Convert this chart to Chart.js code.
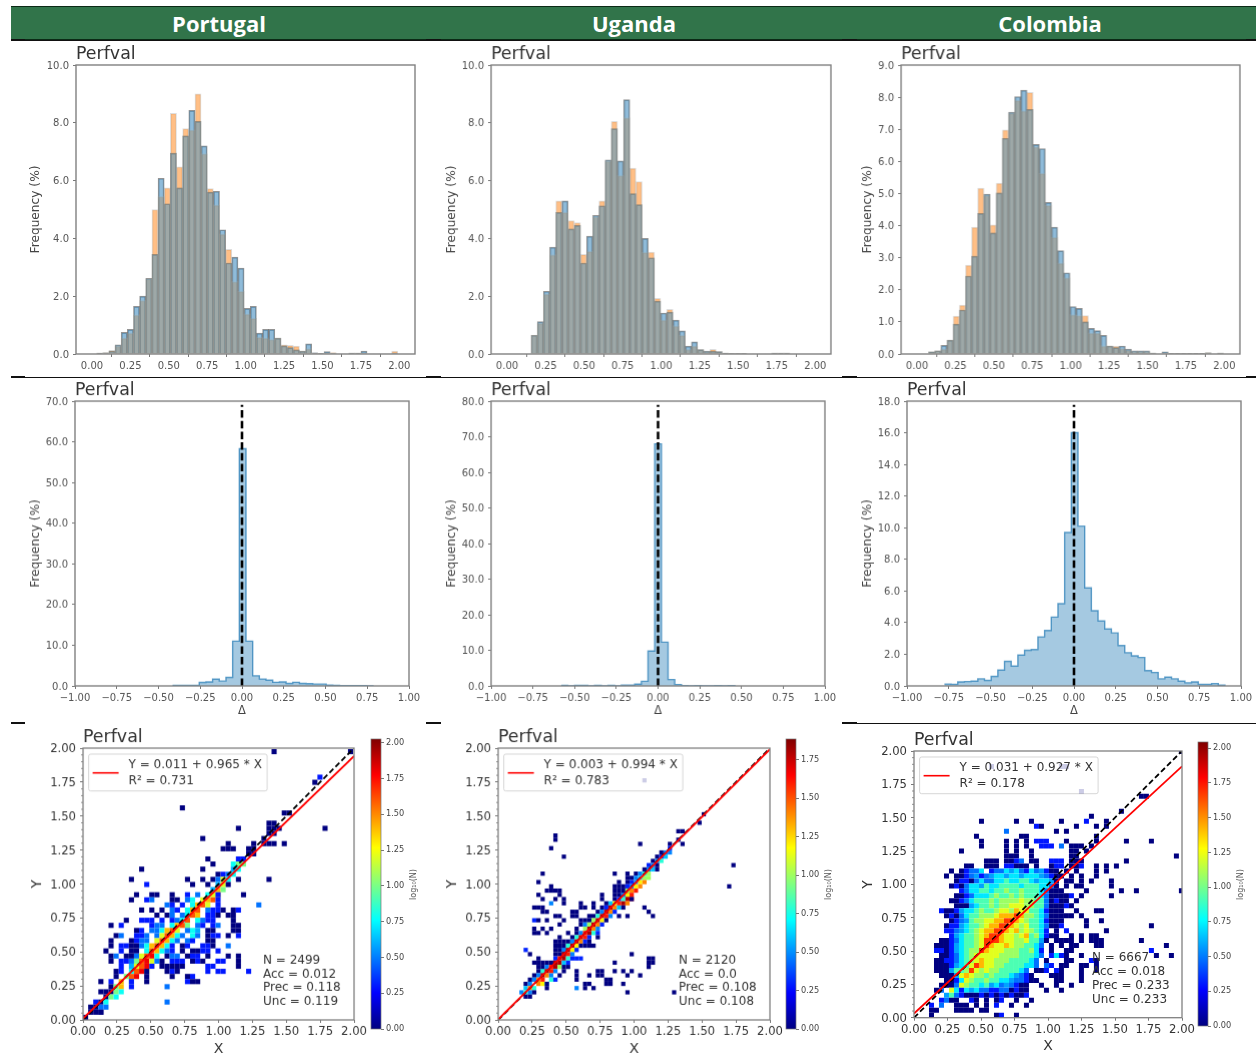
<!DOCTYPE html>
<html><head><meta charset="utf-8">
<script src="https://cdn.jsdelivr.net/npm/chart.js@4"></script>
<style>
html,body{margin:0;padding:0;background:#fff;width:1256px;height:1059px;overflow:hidden}
canvas{position:absolute;filter:blur(0.45px)}
.band{position:absolute;left:11px;top:6px;width:1245px;height:34px;background:#31744a;border-top:1px solid #0b2a16;border-bottom:1px solid #0b2a16;box-sizing:border-box}
.head{position:absolute;top:6px;height:33px;color:#fff;font:bold 22px/34px "Open Sans",sans-serif;transform:translateX(-50%)}
.rule{position:absolute;background:#111}
</style></head><body>
<div class="band"></div>
<div class="head" style="left:219px">Portugal</div>
<div class="head" style="left:634px">Uganda</div>
<div class="head" style="left:1050px">Colombia</div>
<script>
// ---------- categories / labels ----------
const countries = ["Portugal", "Uganda", "Colombia"];
const titleText = "Perfval";
const histXTicks = [0, 0.25, 0.5, 0.75, 1, 1.25, 1.5, 1.75, 2];
const deltaXTicks = [-1, -0.75, -0.5, -0.25, 0, 0.25, 0.5, 0.75, 1];
const scatterTicks = [0, 0.25, 0.5, 0.75, 1, 1.25, 1.5, 1.75, 2];
const histYTicksPT = [0, 2, 4, 6, 8, 10];
const histYTicksUG = [0, 2, 4, 6, 8, 10];
const histYTicksCO = [0, 1, 2, 3, 4, 5, 6, 7, 8, 9];
const deltaYTicksPT = [0, 10, 20, 30, 40, 50, 60, 70];
const deltaYTicksUG = [0, 10, 20, 30, 40, 50, 60, 70, 80];
const deltaYTicksCO = [0, 2, 4, 6, 8, 10, 12, 14, 16, 18];
const cbarTicksPT = [0, 0.25, 0.5, 0.75, 1, 1.25, 1.5, 1.75, 2];
const cbarTicksUG = [0, 0.25, 0.5, 0.75, 1, 1.25, 1.5, 1.75];
const cbarTicksCO = [0, 0.25, 0.5, 0.75, 1, 1.25, 1.5, 1.75, 2];

// ---------- histogram series: first bin edge, then % per 0.04 bin ----------
const histStartPT = 0.03;
const histBluePT = [.03,.04,.1,.32,.75,.85,1.65,2.0,2.62,3.45,6.08,5.2,6.95,5.75,7.55,8.43,8.05,7.2,5.6,5.63,4.3,3.15,3.35,2.97,1.58,1.65,.72,.85,.85,.55,.28,.22,.14,.1,.35,.04,.02,.08,.02,0,0,.03,.03,.1,0,0,0,0,.03];
const histOrangePT = [.03,.04,.13,.28,.55,.72,1.35,1.85,2.6,5.0,5.45,5.75,8.33,6.48,7.8,7.75,9.0,6.93,5.72,5.15,4.15,3.62,2.5,2.17,1.38,1.23,.58,.55,.5,.55,.32,.3,.27,.1,.18,.03,.02,.03,.05,0,0,.03,.03,.03,0,0,0,0,.1];
const histStartUG = 0.156;
const histBlueUG = [.65,1.12,2.17,3.7,4.9,5.3,4.33,4.45,3.15,4.08,4.8,5.13,6.72,7.8,6.68,8.8,5.55,5.17,4.0,3.33,1.83,1.42,1.45,1.17,.8,.27,.42,.15,.1,.1,.08,.03,.02,.02,.02,0,0,0,0,.03,.03,.03];
const histOrangeUG = [.65,1.07,2.07,3.43,5.3,4.9,4.62,4.55,3.45,3.55,4.75,5.3,6.68,8.05,6.17,8.17,6.43,5.97,3.52,3.53,1.93,1.17,1.55,.97,.65,.15,.27,.15,.08,.16,.08,.03,.02,.02,.02,0,0,0,0,.03,.03,.03];
const histStartCO = 0.075;
const histBlueCO = [.07,.1,.27,.43,.93,1.37,2.43,3.05,4.38,4.98,3.77,5.02,6.72,7.53,8.02,8.22,7.62,6.53,6.4,4.72,3.95,3.22,2.53,1.48,1.42,1.0,.8,.73,.58,.25,.2,.25,.15,.1,.1,.1,.03,0,.07,.02,.02,.02,.02,.02,.02,.04,0,.03];
const histOrangeCO = [.07,.1,.15,.43,1.18,1.52,2.77,3.95,5.17,4.93,4.02,5.32,6.98,7.5,7.9,7.57,8.15,6.45,5.63,4.63,3.63,2.83,2.37,1.22,1.2,1.2,.65,.65,.25,.25,.25,.17,.12,.07,.07,.07,.03,0,.03,.02,.02,.02,.02,.02,.02,.04,0,.03];

// ---------- delta histograms: first bin edge, then % per 0.04 bin ----------
const deltaStartPT = -0.416;
const deltaPT = [.12,.12,.15,.15,.85,1.0,1.65,1.2,2.1,11,58.3,11,2.5,1.7,1.4,.9,1.0,.6,.9,.6,.55,.45,.45,.2,.15,.05,.05,.05,.05,.03];
const deltaStartUG = -0.58;
const deltaUG = [.12,0,.12,.12,0,.12,0,.12,0,.2,.2,.5,1.3,9.8,68,12.3,1.8,.4,.05,0,.1,0,0,.1,0,.1];
const deltaStartCO = -0.776;
const deltaCO = [.12,.1,.25,.28,.3,.45,.35,.6,1.0,1.55,1.25,1.95,2.25,2.3,3.1,3.5,4.35,5.2,9.7,16,10.1,6.2,4.75,4.1,3.6,3.35,2.55,2.1,1.9,1.8,.97,.85,.45,.55,.45,.3,.2,.25,.1,.1,.15,.05];

// ---------- fit + summary text ----------
const fitPT = [0.011, 0.965]; const fitUG = [0.003, 0.994]; const fitCO = [0.031, 0.927];
const fitEnds = [0, 2];
const statsPT = ["N = 2499", "Acc = 0.012", "Prec = 0.118", "Unc = 0.119"];
const statsUG = ["N = 2120", "Acc = 0.0", "Prec = 0.108", "Unc = 0.108"];
const statsCO = ["N = 6667", "Acc = 0.018", "Prec = 0.233", "Unc = 0.233"];
const legendPT = ["Y = 0.011 + 0.965 * X", "R\u00b2 = 0.731"];
const legendUG = ["Y = 0.003 + 0.994 * X", "R\u00b2 = 0.783"];
const legendCO = ["Y = 0.031 + 0.927 * X", "R\u00b2 = 0.178"];

// ---------- 2-D histogram cells: "row col:levels col:levels" ('.' empty cell) ----------
const levelValues = {"1":0,"2":.3,"3":.48,"4":.6,"5":.78,"6":1,"7":1.2,"8":1.4,"9":1.6,"a":1.8};
const levelValuesCO = {"1":0,"2":.3,"3":.48,"4":.58,"5":.72,"6":.92,"7":1.08,"8":1.22,"9":1.42,"a":1.68};
const cellSizePT = 0.0376, cellSizeUG = 0.0312, cellSizeCO = 0.0373;
const heatPT = [
"52 37:1 52:1","47 46:2","46 45:1","41 19:1","40 39:11","38 36:11","37 30:1 36:111 47:1","36 36:11","35 23:1 35:1",
"34 28:1 33:1 35:111 39:1","33 27:111 32:11","32 32:11","31 24:1 30:22","30 25:1 29:566","29 11:1 23:1 29:45",
"28 26:12 28:35","27 9:1 20:1 23:1 25:1 26:375 30:1 36:1","26 12:2 21:1 24:1 26:47 28:1","25 25:4 26:86",
"24 10:1 13:11 17:1 20:2.3.578 26:2 31:1","23 9:1 12:23 17:11 20:35.789 26:2","22 16:32 19:2.5897 26:2 34:3",
"21 11:1 13:1 15:1.32 18:2.589.322 27:1 29:12","20 14:1.13.3598.221 28:11","19 8:1 11:222.2.2359.5322 29:1",
"18 5:1 7:2 13:233.5896.32.23 29:11","17 10:12.335897.354 24:11 29:11","16 6:13 10:223.379853.53 24:122 28:1 30:2",
"15 5:1 9:1233.79853.32 24:11","14 5:1 7:2211 11:3589852.12 23:221 28:3","13 4:1 7:2.11 12:598532 19:1 21:112 24:2 26:2",
"12 5:1 6:3.11 10:379a5.133 20:122 24:1 28:1 30:1","11 5:1 7:22 9:369a7 14:31 17:222 21:121 26:22 30:1",
"10 7:2 8:.479a8 13:2 15:11 17:111 24:22 30:1","9 6:1 7:2.59a7 12:1 16:1 17:21 24:2 26:22 32:2","8 6:1 7:.69a.1 17:1 20:1 21:2",
"7 3:1 5:2.8.6 9:2 12:1 20:21 22:1","6 5:1 6:68.2 16:3","5 3:11 5:165","4 4:165","3 2:21 4:5 16:3","2 1:1 2:133","1 1:111 3:1","0 0:1"
];
const heatUG = [
"56 34:1","48 48:1","46 47:1","44 42:11","43 13:1","42 13:1 42:1","41 33:1 40:1 43:1","40 12:1 40:2","39 38:133","38 15:1 37:124","37 36:135","36 35:23 37:1 55:1",
"35 34:134 37:1","34 10:1 27:1 30:1 32:1 33:356","33 30:1 31:13 33:466","32 9:1 28:1 30:12 32:378","31 12:1 27:111 30:2 31:378 54:1",
"30 11:111 14:1 27:1111 30:689","29 9:1 14:1 24:1 27:1111 29:379","28 10:1 13:1 15:1 24:1 27:1 28:25a9 31:1","27 12:3 15:1 19:1 22:1 25:1 26:479a8",
"26 8:111 19:1 20:1 22:1 24:12 26:a84 29:1 34:1","25 10:11 17:11 23:1 24:3a82 35:1","24 13:11 17:11 21:1 22:1 23:5a93 28:1 30:1 36:1","23 8:21 11:1 15:1 19:111 22:6a71",
"22 14:1 19:1 20:36a82","21 8:1 10:1 12:1 18:1 20:6a83","20 8:11 11:1 16:1 18:1 19:39a52","19 14:1 17:1 18:5a92 23:1",
"18 13:111 16:1 17:3a82 21:1","17 13:11 14:1 15:1 16:5a71 20:111","16 6:2 13:111 15:3a72","15 7:1 13:111 15:a93 31:1",
"14 9:1 13:29a5 17:222 35:11","13 8:1111 12:1 13:aa42 27:1 35:11","12 9:1 10:1 11:39a61 16:1 35:1","11 9:11 10:5a93 15:1 18:1 23:1 24:1 27:1 29:1 31:1",
"10 8:1 9:3a83 14:1 18:1 21:1 23:1 24:1 30:1 33:1","9 7:1 8:389.52 18:1 25:11","8 6:1 7:3.874 11:1 20:1 21:1 25:1 26:1 29:1","7 6:485 11:1 18:3 20:1 22:1","6 5:353 8:1 30:1 41:1","5 6:1 7:1"
];
const heatCO = [
"53 53:1","50 15:1 29:11","45 33:1","44 45:11","41 41:1","40 35:1","39 13:1 20:1 23:1 29:1 34:2 38:1","38 24:21 32:1 36:1 38:1","37 18:3 28:1 30:1","36 12:1 21:11 36:1",
"35 13:1 18:1 20:1 22:1 24:222 30:1 36:1 42:1 47:1","34 13:1 18:1 20:1 22:1 25:222 29:3 31:111 35:1","33 9:1 18:1 20:1 23:1 31:11 34:1","32 18:11 20:1 23:1 31:11 52:1",
"31 14:111 18:1123 23:11 27:222 31:111 42:1","30 10:11 14:111 18:2211 22:1 24:1 27:1 28:22 31:112 36:1 38:1 40:1",
"29 7:1 9:1 10:2335 15:2 16:33 18:545 21:325 24:34 26:2 27:11 30:1 32:1 36:1 38:1",
"28 6:1 8:112 11:34 13:23 15:4 16:554 19:5 20:5 21:4 22:5 23:55 25:4 26:3 27:21 29:1 31:1 33:1 36:1",
"27 8:1 9:221 12:3 13:5 14:33 16:5565 20:566 23:545 26:54 28:1 30:11 33:1 35:1 39:1",
"26 7:12 9:1 10:3 11:55 13:4 14:6 15:55 17:6 18:66 20:6 21:56 23:6 24:65 26:53 28:1 30:1 32:11 39:1",
"25 9:2 10:3 11:55 13:66 15:5 16:6 17:67 19:66 21:7 22:66 24:6 25:53 27:11 29:1 34:1 41:1 44:1 53:1",
"24 8:11 10:23 12:5 13:55 15:67 17:66 19:7 20:67 22:66 24:6 25:5 26:31 28:1112 33:1 39:1",
"23 7:11 9:2 10:3 11:5 12:6 13:66 15:7 16:67 18:7 19:77 21:8 22:77 24:66 26:3 27:12 29:11 32:1",
"22 8:1 9:11 11:45 13:66 15:7 16:6 17:7 18:78 20:8 21:87 23:7 24:6 25:6 26:3 27:1 28:11 30:21",
"21 5:2 6:1 7:1 8:2 9:4 10:5 11:56 13:7 14:66 16:7 17:8 18:87 20:9 21:88 23:66 25:5 26:21 28:1 29:1 32:1 36:11",
"20 6:12 8:13 10:5 11:66 13:77 15:78 17:9 18:9 19:9 20:a9 22:7 23:76 25:5 26:3 27:11 29:11 31:1 33:1",
"19 7:1 8:23 10:4 11:67 13:7 14:8 15:89 17:9 18:a 19:a 20:9 21:87 23:66 25:5 26:2 27:1 28:11 34:1 37:1",
"18 6:12 8:2 9:4 10:5 11:66 13:78 15:9 16:9 17:a 18:a 19:9 20:87 22:8 23:6 24:65 26:3 27:1 28:12 34:1 47:1",
"17 6:2 7:2 8:3 9:4 10:5 11:67 13:8 14:9 15:9a 17:a 18:9 19:8 20:9 21:78 23:7 24:6 25:5 26:2 28:1 30:2 38:1",
"16 7:2 8:4 9:56 11:67 13:8 14:9 15:a 16:a 17:9 18:8 19:8 20:78 22:9 23:67 25:5 26:21 28:1 31:1 33:1 35:11",
"15 5:1 6:12 8:3 9:56 11:67 13:8 14:a 15:a 16:a 17:9 18:88 20:77 22:8 23:66 25:4 26:1 28:11 30:11 33:1 35:111 45:1",
"14 4:11 6:12 8:4 9:5 10:66 12:78 14:a 15:9 16:88 18:98 20:77 22:66 24:5 25:3 27:1 29:1 31:11 36:11 50:1",
"13 4:22 6:12 8:45 10:67 12:7 13:a 14:9 15:88 17:87 19:77 21:66 23:7 24:5 25:2 27:1 30:11 47:2",
"12 5:11 7:23 9:56 11:78 13:8 14:88 16:8 17:77 19:7 20:76 22:66 24:5 25:3 27:25 29:21 33:1 48:1 51:1",
"11 4:112 7:23 9:567 12:89 14:8 15:8 16:77 18:76 20:66 22:6 23:5 24:3 26:1 30:11 35:2 36:1",
"10 4:11 6:12 8:45 10:68 12:a 13:9 14:88 16:7 17:76 19:66 21:65 23:5 24:3 26:32 29:11 33:11 36:1",
"9 4:11 6:1 7:4 8:6 9:67 11:a 12:8 13:78 15:77 17:66 19:66 21:5 22:3 24:11 26:2 28:21 33:1 36:1",
"8 5:11 7:145 9:89 11:87 13:76 15:76 17:6 18:65 20:4 21:3 22:2 23:1 27:111 33:1",
"7 6:11 8:2 9:5 10:8 11:76 13:6 14:76 16:65 18:5 19:4 20:33 22:21 24:1 28:11 33:1",
"6 5:1 6:11 8:38 10:76 12:6 13:56 15:45 17:3 18:4 19:3 20:21 22:1 25:1 28:1 31:1",
"5 4:1 5:3 7:85 9:2 10:5 11:45 13:33 15:2 16:2 17:33 19:1 20:21 22:1 26:1 29:1",
"4 6:4 7:6 8:3 9:2 10:11 12:1 13:2 14:12 16:1 17:2 18:1 19:21 21:12",
"3 5:231 8:1 11:21 14:1 16:1 17:2 20:1 23:1","2 3:2 5:3 8:111 12:1 14:1 16:2 19:1 22:1","1 3:11 8:111 11:1 13:11","0 3:1 16:12 20:1"
];

// ---------- helpers ----------
const FONT = '"DejaVu Sans",sans-serif';
const jet = t => { t = Math.max(0, Math.min(1, t));
  const r = Math.max(0, Math.min(1, 1.5 - Math.abs(4*t - 3)));
  const g = Math.max(0, Math.min(1, 1.5 - Math.abs(4*t - 2)));
  const b = Math.max(0, Math.min(1, 1.5 - Math.abs(4*t - 1)));
  return `rgb(${Math.round(r*255)},${Math.round(g*255)},${Math.round(b*255)})`; };

function parseHeat(rows, cell, vmax, levels){
  const pts = [], cols = [];
  rows.forEach(s => { const p = s.trim().split(/\s+/); const r = +p[0];
    p.slice(1).forEach(tok => { const [c, d] = tok.split(":"); [...d].forEach((ch, i) => {
      if (ch === ".") return;
      const v = levels[ch];
      pts.push({x:(+c + i + .5)*cell, y:(r + .5)*cell}); cols.push(jet(v/vmax)); }); }); });
  return {pts, cols};
}

function makeCanvas(rect){
  const c = document.createElement("canvas");
  c.width = rect.w; c.height = rect.h;
  c.style.left = rect.x + "px"; c.style.top = rect.y + "px";
  c.style.width = rect.w + "px"; c.style.height = rect.h + "px";
  document.body.appendChild(c);
  return c;
}

function frameScales(plot, cv, x, y){
  x.afterFit = s => { s.height = cv.y + cv.h - plot.b; };
  y.afterFit = s => { s.width = plot.l - cv.x; };
  return {x, y};
}
function axisTitle(text, size, color, padding){
  return {display:true, text, color, font:{family:FONT, size, lineHeight:1.2}, padding};
}

function basePlugin(plot, o){
  return { id:"deco",
    afterDatasetsDraw(ch){
      const a = ch.chartArea, ctx = ch.ctx; ctx.save();
      if (o.minor){ ctx.strokeStyle = "#777"; ctx.lineWidth = .8; const sy = ch.scales.y;
        o.minor.forEach(v => { const py = sy.getPixelForValue(v); ctx.beginPath(); ctx.moveTo(a.left-2, py); ctx.lineTo(a.left, py); ctx.stroke(); }); }
      ctx.strokeStyle = o.frame; ctx.lineWidth = o.frameW; ctx.strokeRect(a.left, a.top, a.right-a.left, a.bottom-a.top);
      ctx.fillStyle = "#333"; ctx.font = `17.4px ${FONT}`; ctx.textBaseline = "middle"; ctx.textAlign = "left";
      ctx.fillText(titleText, a.left, a.top - 10.7);
      if (o.legend){
        const bx = a.left + 5.6, by = a.top + 6;
        ctx.fillStyle = "rgba(255,255,255,.8)"; ctx.strokeStyle = "rgba(204,204,204,.8)"; ctx.lineWidth = 1;
        ctx.beginPath(); ctx.roundRect(bx, by, 178.5, 36.7, 2); ctx.fill(); ctx.stroke();
        ctx.strokeStyle = "#f00"; ctx.lineWidth = 1.6; ctx.beginPath(); ctx.moveTo(bx+4, by+18.7); ctx.lineTo(bx+30, by+18.7); ctx.stroke();
        ctx.fillStyle = "#333"; ctx.font = `12px ${FONT}`;
        ctx.fillText(o.legend[0], bx+40, by+11); ctx.fillText(o.legend[1], bx+40, by+26.5);
        o.stats.forEach((t, i) => ctx.fillText(t, a.left + o.statsX, a.bottom - 59.5 + i*13.9));
      }
      ctx.restore();
    }};
}

const common = { responsive:false, animation:false, devicePixelRatio:1, events:[] };
const tickFmt = (d) => (v) => { const s = Math.abs(v).toFixed(d); return (v < -1e-9 ? "\u2212" : "") + s; };

function linAxis(min, max, ticks, dec, fs, color, extra, tickOpts){
  return Object.assign({ type:"linear", min, max, offset:false,
    afterBuildTicks:s => { s.ticks = ticks.map(v => ({value:v})); },
    grid:{display:true, drawOnChartArea:false, drawTicks:true, tickLength:3, tickColor:"#555", tickWidth:.8},
    border:{display:false},
    ticks:Object.assign({autoSkip:false, maxRotation:0, minRotation:0, padding:2, color, font:{family:FONT, size:fs}, callback:tickFmt(dec)}, tickOpts||{}) }, extra||{});
}
const yTick = {padding:4, labelOffset:1};

function histChart(plot, blue, orange, start, yMax, yTicks){
  const cv = {x:plot.l-50, y:plot.t-30, w:plot.r-plot.l+80, h:plot.b-plot.t+56};
  const centre = i => +(start + .04*(i+.5)).toFixed(3);
  const shared = blue.map((y,i)=>({x:centre(i), y:Math.min(y, orange[i])}));
  const ax = frameScales(plot, cv,
    linAxis(-0.104, 2.102, histXTicks, 2, 10, "#555", null, {padding:3}),
    linAxis(0, yMax, yTicks, 1, 10, "#555", {title:axisTitle("Frequency (%)", 12.2, "#444", {top:plot.yTitle - cv.x - 7.3, bottom:0})}, yTick));
  new Chart(makeCanvas(cv), { type:"bar",
    data:{datasets:[
      {data:shared, backgroundColor:"rgba(190,195,190,.32)", borderWidth:0, barThickness:6.15, order:0, grouped:false},
      {data:blue.map((y,i)=>({x:centre(i),y})), backgroundColor:"rgba(31,119,180,.5)", borderColor:"rgba(0,0,0,.42)", borderWidth:1, barThickness:6.15, order:1, grouped:false},
      {data:orange.map((y,i)=>({x:centre(i),y})), backgroundColor:"rgba(255,127,14,.5)", borderColor:"rgba(90,90,90,.2)", borderWidth:1, barThickness:6.15, order:2, grouped:false}]},
    options:Object.assign({}, common, {grouped:false, layout:{padding:{top:plot.t-cv.y, right:cv.x+cv.w-plot.r, left:0, bottom:0}},
      plugins:{legend:{display:false}, tooltip:{enabled:false}}, scales:ax}),
    plugins:[basePlugin(plot,{frame:"#808080", frameW:1.4})] });
}

function deltaChart(plot, values, start, yMax, yTicks){
  const cv = {x:plot.l-50, y:plot.t-30, w:plot.r-plot.l+80, h:plot.b-plot.t+60};
  const steps = values.map((y,i)=>({x:+(start+.04*i).toFixed(3), y}));
  steps.push({x:+(start+.04*values.length).toFixed(3), y:0});
  const ax = frameScales(plot, cv,
    linAxis(-1, 1, deltaXTicks, 2, 10, "#555", {title:axisTitle("\u0394", 11.5, "#444", {top:0, bottom:cv.y+cv.h-711-6.9})}, {padding:3}),
    linAxis(0, yMax, yTicks, 1, 10, "#555", {title:axisTitle("Frequency (%)", 12.2, "#444", {top:plot.yTitle - cv.x - 7.3, bottom:0})}, yTick));
  new Chart(makeCanvas(cv), { type:"line",
    data:{datasets:[
      {data:[{x:0,y:0},{x:0,y:yMax*.987}], borderColor:"#000", borderWidth:2.6, borderDash:[7.5,3.2], pointRadius:0, order:0},
      {data:steps, stepped:true, fill:"origin", backgroundColor:"rgba(31,119,180,.4)", borderColor:"rgba(31,119,180,.7)", borderWidth:1.4, pointRadius:0, order:1}]},
    options:Object.assign({}, common, {layout:{padding:{top:plot.t-cv.y, right:cv.x+cv.w-plot.r, left:0, bottom:0}},
      plugins:{legend:{display:false}, tooltip:{enabled:false}}, scales:ax}),
    plugins:[basePlugin(plot,{frame:"#808080", frameW:1.4})] });
}

const minorTicks = [];
for (let k = 1; k < 40; k++) if (k % 5) minorTicks.push(k*.05);

function scatterChart(plot, rows, cell, vmax, levels, fit, legend, stats){
  const cv = {x:plot.l-60, y:plot.t-30, w:plot.r-plot.l+90, h:1059-plot.t+30};
  const side = (plot.r-plot.l)/2*cell;
  const heat = parseHeat(rows, cell, vmax, levels);
  const ax = frameScales(plot, cv,
    linAxis(0, 2, scatterTicks, 2, 11.6, "#333", {title:axisTitle("X", 14, "#333", {top:0, bottom:cv.y+cv.h-plot.xTitle-10})}, {padding:2}),
    linAxis(0, 2, scatterTicks, 2, 11.6, "#333", {title:axisTitle("Y", 14, "#333", {top:plot.yTitle - cv.x - 8.4, bottom:0})}, {padding:4, labelOffset:1}));
  new Chart(makeCanvas(cv), { type:"scatter",
    data:{datasets:[
      {type:"line", data:fitEnds.map(x=>({x,y:fit[0]+fit[1]*x})), borderColor:"#f00", borderWidth:1.8, pointRadius:0, order:0},
      {type:"line", data:fitEnds.map(x=>({x,y:x})), borderColor:"#000", borderWidth:1.8, borderDash:[5.5,3], pointRadius:0, order:1},
      {data:heat.pts, pointStyle:"rect", pointRadius:side/Math.SQRT2, pointBorderWidth:0, backgroundColor:heat.cols, borderColor:"transparent", order:2}]},
    options:Object.assign({}, common, {layout:{padding:{top:plot.t-cv.y, right:cv.x+cv.w-plot.r, left:0, bottom:0}},
      plugins:{legend:{display:false}, tooltip:{enabled:false}}, scales:ax}),
    plugins:[basePlugin(plot,{frame:"#808080", frameW:1.3, minor:minorTicks, legend, stats, statsX:plot.statsX})] });
}

function colorbar(plot, vmax, ticks, labelX){
  const cv = {x:plot.l-2, y:plot.t-10, w:plot.r-plot.l+60, h:plot.b-plot.t+20};
  const y = linAxis(0, vmax, ticks, 2, 8.2, "#444", {position:"right"});
  y.afterFit = s => { s.width = cv.x+cv.w-plot.r; };
  const x = {type:"linear", display:false, min:0, max:1};
  new Chart(makeCanvas(cv), { type:"scatter", data:{datasets:[{data:[]}]},
    options:Object.assign({}, common, {layout:{padding:{top:plot.t-cv.y, bottom:cv.y+cv.h-plot.b, left:plot.l-cv.x, right:0}},
      plugins:{legend:{display:false}, tooltip:{enabled:false}}, scales:{x, y}}),
    plugins:[{id:"cbar", beforeDatasetsDraw(ch){
      const a = ch.chartArea, c = ch.ctx, g = c.createLinearGradient(0, a.bottom, 0, a.top);
      for (let i = 0; i <= 32; i++) g.addColorStop(i/32, jet(i/32));
      c.fillStyle = g; c.fillRect(a.left, a.top, a.right-a.left, a.bottom-a.top);
      c.strokeStyle = "#777"; c.lineWidth = .7; c.strokeRect(a.left, a.top, a.right-a.left, a.bottom-a.top);
      c.save(); c.translate(labelX - cv.x, (a.top+a.bottom)/2 + .5); c.rotate(-Math.PI/2);
      c.fillStyle = "#555"; c.font = `8px ${FONT}`; c.textAlign = "center"; c.textBaseline = "middle"; c.fillText("log\u2081\u2080(N)", 0, 0); c.restore();
    }}] });
}

// ---------- panels ----------
histChart({l:75.7,r:414.7,t:65,b:354,yTitle:36}, histBluePT, histOrangePT, histStartPT, 10, histYTicksPT);
histChart({l:491.3,r:830.7,t:65,b:354,yTitle:452}, histBlueUG, histOrangeUG, histStartUG, 10, histYTicksUG);
histChart({l:901,r:1239.7,t:65,b:354,yTitle:868}, histBlueCO, histOrangeCO, histStartCO, 9, histYTicksCO);

deltaChart({l:74.7,r:408.7,t:401.3,b:686.3,yTitle:36}, deltaPT, deltaStartPT, 70, deltaYTicksPT);
deltaChart({l:491,r:824.7,t:401.3,b:686.3,yTitle:452}, deltaUG, deltaStartUG, 80, deltaYTicksUG);
deltaChart({l:906.7,r:1240.7,t:401.3,b:686.3,yTitle:868}, deltaCO, deltaStartCO, 18, deltaYTicksCO);

scatterChart({l:82.7,r:354,t:748.3,b:1020,yTitle:36.7,xTitle:1048,statsX:180}, heatPT, cellSizePT, 2.026, levelValues, fitPT, legendPT, statsPT);
scatterChart({l:498.3,r:769.7,t:748.3,b:1020,yTitle:452.7,xTitle:1048,statsX:180}, heatUG, cellSizeUG, 1.886, levelValues, fitUG, legendUG, statsUG);
scatterChart({l:913.7,r:1181.7,t:750.7,b:1017.7,yTitle:868,xTitle:1045,statsX:178}, heatCO, cellSizeCO, 2.045, levelValuesCO, fitCO, legendCO, statsCO);

colorbar({l:370.7,r:380.7,t:739.3,b:1029.3}, 2.026, cbarTicksPT, 413.3);
colorbar({l:786.3,r:796.3,t:739.3,b:1029.3}, 1.886, cbarTicksUG, 829);
colorbar({l:1198.3,r:1208.3,t:741.7,b:1026}, 2.045, cbarTicksCO, 1241);

// ---------- section rules ----------
function rule(x,y,w,h){ const d=document.createElement("div"); d.className="rule"; d.style.cssText=`left:${x}px;top:${y}px;width:${w}px;height:${h}px`; document.body.appendChild(d); }
[39.5, 376.5].forEach(y => { rule(11,y,1245,1); rule(11,y-.5,14,2); rule(426,y-.5,15,2); rule(842,y-.5,15,2); rule(1246,y-.5,10,2); });
rule(11,722,14,2); rule(426,722,15,2); rule(842,722,15,2); rule(857,722.5,399,1);
</script>
</body></html>
